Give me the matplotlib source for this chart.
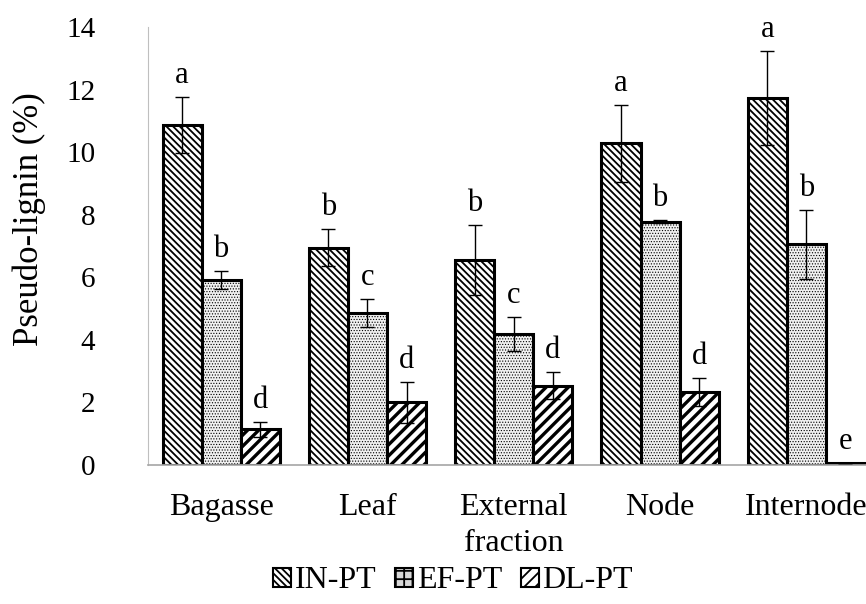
import matplotlib
matplotlib.use("Agg")
import matplotlib.pyplot as plt
import numpy as np
from matplotlib.patches import Patch

categories = ["Bagasse", "Leaf", "External\nfraction", "Node", "Internode"]
series = ["IN-PT", "EF-PT", "DL-PT"]
in_pt = [10.87, 6.95, 6.55, 10.28, 11.72]
ef_pt = [5.91, 4.85, 4.18, 7.78, 7.05]
dl_pt = [1.14, 2.00, 2.54, 2.34, 0.05]
in_err = [0.90, 0.60, 1.12, 1.22, 1.50]
ef_err = [0.30, 0.45, 0.54, 0.05, 1.10]
dl_err = [0.25, 0.66, 0.44, 0.45, 0.0]
in_let = ["a", "b", "b", "a", "a"]
ef_let = ["b", "c", "c", "b", "b"]
dl_let = ["d", "d", "d", "d", "e"]

plt.rcParams['font.family'] = ['Liberation Serif', 'DejaVu Serif']

fig = plt.figure(figsize=(8.66, 6.04), dpi=100)
ax = fig.add_axes([148/866, 1-465/604, (866-148)/866, (465-27)/604])

x = np.arange(len(categories))
w = 0.267
vals = [in_pt, ef_pt, dl_pt]
errs = [in_err, ef_err, dl_err]
lets = [in_let, ef_let, dl_let]
hatches = ['\\\\\\\\\\', '......', '///']
faces = ['white', '#f0f0f0', 'white']
hlw = [1.3, 0.5, 2.4]

for i in range(3):
    plt.rcParams['hatch.linewidth'] = hlw[i]
    pos = x + (i - 1) * w
    bars = ax.bar(pos, vals[i], w, color=faces[i], edgecolor='black',
                  linewidth=2.2, hatch=hatches[i], zorder=2)
    for b in bars:
        if hasattr(b, 'set_hatch_linewidth'):
            b.set_hatch_linewidth(hlw[i])
    ax.errorbar(pos, vals[i], yerr=errs[i], fmt='none', ecolor='black',
                elinewidth=1.0, capsize=5, capthick=1.0, zorder=3)
    for p, v, e, t in zip(pos, vals[i], errs[i], lets[i]):
        ax.annotate(t, (p, v + e), xytext=(0, 5), textcoords='offset points',
                    ha='center', va='bottom', fontsize=22)

ax.set_xlim(-0.5, -0.5 + 718/146.3)
ax.set_ylim(0, 14)
ax.set_yticks(np.arange(0, 15, 2))
ax.set_xticks(x)
ax.set_xticklabels(categories, fontsize=23, linespacing=1.35)
ax.tick_params(axis='x', length=0, pad=20)
ax.tick_params(axis='y', length=0, pad=38, labelsize=21)
for s in ['top', 'right']:
    ax.spines[s].set_visible(False)
ax.spines['left'].set_color('#bfbfbf')
ax.spines['bottom'].set_color('#a6a6a6')
ax.spines['bottom'].set_linewidth(1.2)
ax.set_ylabel("Pseudo-lignin (%)", fontsize=25)
ax.yaxis.set_label_coords((46-148)/718, (465-219)/438)

handles = []
leg_faces = ['white', '#d8d8d8', 'white']
leg_hlw = [1.3, 0.3, 2.4]
for i in range(3):
    plt.rcParams['hatch.linewidth'] = leg_hlw[i]
    h = Patch(facecolor=leg_faces[i], edgecolor='black',
              hatch=hatches[i] if i != 1 else '++',
              linewidth=1.5, label=series[i])
    handles.append(h)
plt.rcParams['hatch.linewidth'] = 1.3
fig.legend(handles=handles, loc='center', bbox_to_anchor=(453/866, 1-581/604),
           ncol=3, frameon=False, fontsize=23, handlelength=0.55, handleheight=0.55,
           handletextpad=0.12, columnspacing=0.6)

fig.savefig("out.png", dpi=100)
